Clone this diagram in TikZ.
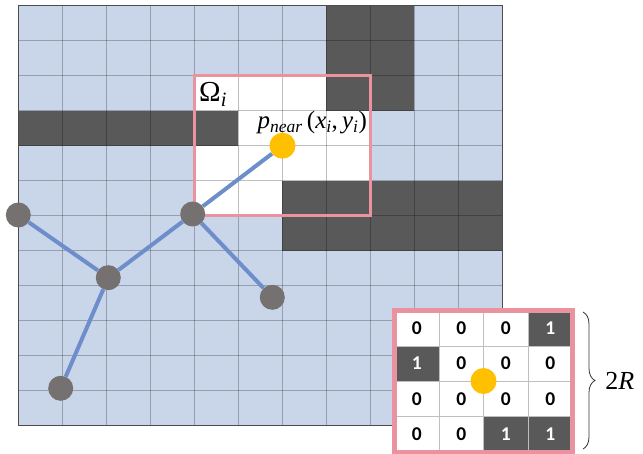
\RequirePackage{fix-cm}
\documentclass[tikz,border=0pt]{standalone}
\usepackage{amsmath,amssymb}
\usepackage{fontspec}
\newfontfamily\cellfont{Carlito}
\newfontfamily\labelfont{Liberation Serif}
\usepackage{tikz}
\usetikzlibrary{
    arrows.meta,
    positioning,
    calc,
    decorations.pathreplacing
}
\usepackage{xcolor}
\definecolor{cellblue}{HTML}{C9D5E9}
\definecolor{obstacle}{HTML}{595959}
\definecolor{framepink}{HTML}{EA929D}
\definecolor{treeblue}{HTML}{6E8ECB}
\definecolor{treegray}{HTML}{767171}
\definecolor{nearorange}{HTML}{FFC000}

\begin{document}
\begin{tikzpicture}[
            x=1pt, y=-1pt,
            gridline/.style={
                draw=black,
                opacity=0.25,
                line width=0.7pt
            },
            insetline/.style={
                draw=black!25,
                line width=0.7pt
            },
            window/.style={
                draw=framepink,
                line width=3.5pt
            },
            treenode/.style={
                circle,
                fill=treegray,
                minimum size=25pt,
                inner sep=0pt
            },
            nearnode/.style={
                circle,
                fill=nearorange,
                minimum size=26pt,
                inner sep=0pt
            },
            treeedge/.style={
                draw=treeblue,
                line width=4pt
            },
            digit/.style={
                font=\cellfont\bfseries\fontsize{19.5}{19.5}\selectfont,
                inner sep=0pt
            },
            mathlabel/.style={
                anchor=base west,
                inner sep=0pt
            },
            brace/.style={
                decorate,
                decoration={brace, amplitude=12pt},
                line width=0.8pt,
                draw=black!80
            }
            ]

            \useasboundingbox (0,0) rectangle (643,454);

            % occupancy grid
            \fill[cellblue] (18.3,5.7) rectangle (502.3,425.7);
            \fill[white] (194.3,75.7) rectangle (370.3,215.7);
            \fill[obstacle] (326.3,5.7) rectangle (414.3,110.7);
            \fill[obstacle] (18.3,110.7) rectangle (238.3,145.7);
            \fill[obstacle] (282.3,180.7) rectangle (502.3,250.7);
            \foreach \c in {1,...,10}
                \draw[gridline] ({18.3+44*\c},5.7) -- ({18.3+44*\c},425.7);
            \foreach \r in {1,...,11}
                \draw[gridline] (18.3,{5.7+35*\r}) -- (502.3,{5.7+35*\r});
            \draw[draw=black!70, line width=1.5pt] (18.3,5.7) rectangle (502.3,425.7);

            % local window
            \draw[window] (194.3,75.7) rectangle (370.3,215.7);

            % tree
            \node[treenode] (root) at (192.7,214) {};
            \node[treenode] (left) at (18.3,215) {};
            \node[treenode] (mid) at (108.3,277.7) {};
            \node[treenode] (low) at (60.7,388.3) {};
            \node[treenode] (right) at (272.3,297.3) {};
            \node[nearnode] (pnear) at (282.5,145.7) {};

            \draw[treeedge] (left) -- (mid);
            \draw[treeedge] (mid) -- (root);
            \draw[treeedge] (mid) -- (low);
            \draw[treeedge] (root) -- (right);
            \draw[treeedge] (root) -- (pnear);

            \node[mathlabel, font=\labelfont\fontsize{29}{29}\selectfont] (omegalabel)
            at (199,101.7) {Ω\textsubscript{\itshape i}};

            \node[mathlabel, font=\labelfont\fontsize{25}{25}\selectfont] (pnearlabel)
            at (257.5,129)
            {\itshape p\textsubscript{near}\,\upshape(\itshape x\textsubscript{i}\upshape,\,\itshape y\textsubscript{i}\upshape)};

            % zoomed window
            \fill[white] (394.5,310.5) rectangle (572.5,452);
            \fill[obstacle] (528,310.5) rectangle (572.5,345.9);
            \fill[obstacle] (394.5,345.9) rectangle (439,381.25);
            \fill[obstacle] (483.5,416.6) rectangle (572.5,452);
            \draw[insetline] (439,310.5) -- (439,452);
            \draw[insetline] (483.5,310.5) -- (483.5,452);
            \draw[insetline] (528,310.5) -- (528,452);
            \draw[insetline] (394.5,345.9) -- (572.5,345.9);
            \draw[insetline] (394.5,381.25) -- (572.5,381.25);
            \draw[insetline] (394.5,416.6) -- (572.5,416.6);
            \draw[draw=framepink, line width=5pt] (394.5,310.5) rectangle (572.5,452);

            \node[digit] (d11) at (416.75,328.2) {0};
            \node[digit] (d12) at (461.25,328.2) {0};
            \node[digit] (d13) at (505.75,328.2) {0};
            \node[digit, text=white] (d14) at (550.25,328.2) {1};
            \node[digit, text=white] (d21) at (416.75,363.6) {1};
            \node[digit] (d22) at (461.25,363.6) {0};
            \node[digit] (d23) at (505.75,363.6) {0};
            \node[digit] (d24) at (550.25,363.6) {0};
            \node[digit] (d31) at (416.75,398.9) {0};
            \node[digit] (d32) at (461.25,398.9) {0};
            \node[digit] (d33) at (505.75,398.9) {0};
            \node[digit] (d34) at (550.25,398.9) {0};
            \node[digit] (d41) at (416.75,434.3) {0};
            \node[digit] (d42) at (461.25,434.3) {0};
            \node[digit, text=white] (d43) at (505.75,434.3) {1};
            \node[digit, text=white] (d44) at (550.25,434.3) {1};

            \node[nearnode] (insetnear) at (483.5,381) {};

            \coordinate (bracetop) at (583,312);
            \coordinate (bracebot) at (583,449);
            \draw[brace] (bracetop) --
            node[anchor=west, inner sep=0pt, xshift=22pt,
                font=\labelfont\fontsize{26}{26}\selectfont] (radius) {2\itshape R}
            (bracebot);

        \end{tikzpicture}
\end{document}
